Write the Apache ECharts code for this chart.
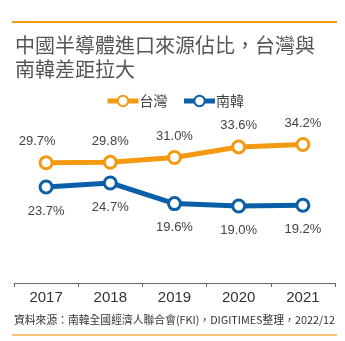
<!DOCTYPE html>
<html>
<head>
<meta charset="utf-8">
<script src="https://cdn.jsdelivr.net/npm/echarts@6/dist/echarts.min.js"></script>
<style>
html, body { margin: 0; padding: 0; background: #fff; }
#chart { width: 345px; height: 341px; }
</style>
</head>
<body>
<div id="chart"></div>
<script>
// 年份
const years = ['2017', '2018', '2019', '2020', '2021']
// 台灣佔比 (%)
const taiwan = [29.7, 29.8, 31.0, 33.6, 34.2]
// 南韓佔比 (%)
const korea = [23.7, 24.7, 19.6, 19.0, 19.2]

const orange = '#f39a12'
const blue = '#0b5ea8'
const fontCJK = '"Noto Sans CJK TC", "Noto Sans", sans-serif'

const myChart = echarts.init(document.getElementById('chart'))

function lineSeries (name, data, color, pos, dist) {
  return {
    name: name,
    type: 'line',
    data: data,
    symbol: 'circle',
    symbolSize: 12,
    showAllSymbol: true,
    lineStyle: { width: 5, color: color },
    itemStyle: { color: '#fff', borderColor: color, borderWidth: 3 },
    label: {
      show: true,
      position: pos,
      distance: dist,
      formatter: p => p.value.toFixed(1) + '%',
      fontSize: 13,
      color: '#444',
      fontFamily: 'Arial, "Liberation Sans", sans-serif'
    },
    emphasis: { disabled: true }
  }
}

// 台灣 2017 的標籤在原圖略偏左
const taiwanData = taiwan.map((v, i) => i === 0 ? { value: v, label: { offset: [-9, 0] } } : v)

const option = {
  animation: false,
  graphic: [
    // 頂部橘線
    { type: 'rect', shape: { x: 12, y: 21, width: 325, height: 2 }, style: { fill: orange } },
    // 標題
    {
      type: 'text', left: 15, top: 33,
      style: {
        text: '中國半導體進口來源佔比，台灣與\n南韓差距拉大',
        font: '20px ' + fontCJK, fill: '#555', lineHeight: 24
      }
    },
    // 資料來源
    {
      type: 'text', left: 14, top: 315,
      style: {
        text: '資料來源：南韓全國經濟人聯合會(FKI)，DIGITIMES整理，2022/12',
        font: '10.8px ' + fontCJK, fill: '#333'
      }
    },
    // 底部橘線
    { type: 'rect', shape: { x: 12, y: 334, width: 325, height: 2 }, style: { fill: '#f8c27e' } }
  ],
  legend: {
    top: 89,
    left: 100,
    itemWidth: 31,
    itemHeight: 13,
    itemGap: 14,
    lineStyle: { width: 5 },
    textStyle: { fontSize: 14, color: '#444', fontFamily: fontCJK, padding: [0, 0, 0, -4] },
    data: ['台灣', '南韓']
  },
  grid: { left: 14, right: 10, top: 121, bottom: 58 },
  xAxis: {
    type: 'category',
    data: years,
    boundaryGap: true,
    axisLine: { lineStyle: { color: '#666', width: 1 } },
    axisTick: { show: true, length: 4, lineStyle: { color: '#666' } },
    axisLabel: { fontSize: 15, color: '#333', margin: 7, fontFamily: 'Arial, "Liberation Sans", sans-serif' }
  },
  yAxis: {
    type: 'value',
    min: 0,
    max: 40,
    show: false,
    splitLine: { show: false }
  },
  series: [
    lineSeries('台灣', taiwanData, orange, 'top', 7),
    lineSeries('南韓', korea, blue, 'bottom', 10)
  ]
}

myChart.setOption(option)
</script>
</body>
</html>
